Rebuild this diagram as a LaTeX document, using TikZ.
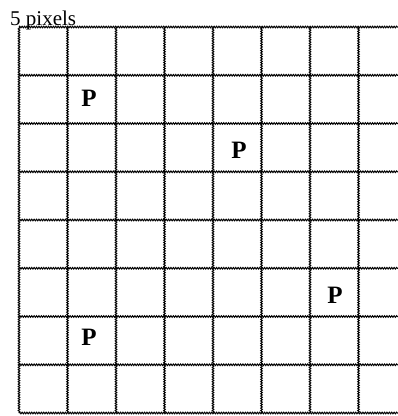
\documentclass[tikz,border=0pt]{standalone}
\usepackage{fontspec}
\setmainfont{Liberation Serif}
\usetikzlibrary{decorations.pathmorphing}

\begin{document}
\begin{tikzpicture}[x=1pt, y=-1pt,
    gridline/.style={
      draw=black, line width=1pt, decorate,
      decoration={snake, segment length=2.4pt, amplitude=0.8pt}
    },
    pmark/.style={font=\fontsize{25}{25}\selectfont\bfseries, inner sep=0pt},
    caption/.style={font=\fontsize{21}{21}\selectfont, inner sep=0pt, anchor=base west}
  ]
  \useasboundingbox (0,0) rectangle (398,416);

  % grid cells
  \foreach \i in {0,...,7}
    \draw[gridline] ({19+48.5*\i},27) -- ({19+48.5*\i},413);
  \foreach \j in {0,...,8}
    \draw[gridline] (19,{27+48.25*\j}) -- (398,{27+48.25*\j});

  \node[caption] (size) at (10,25) {5 pixels};

  \node[pmark] (p1) at (89,98) {P};
  \node[pmark] (p2) at (239,150) {P};
  \node[pmark] (p3) at (335,295) {P};
  \node[pmark] (p4) at (89,337) {P};
\end{tikzpicture}
\end{document}
